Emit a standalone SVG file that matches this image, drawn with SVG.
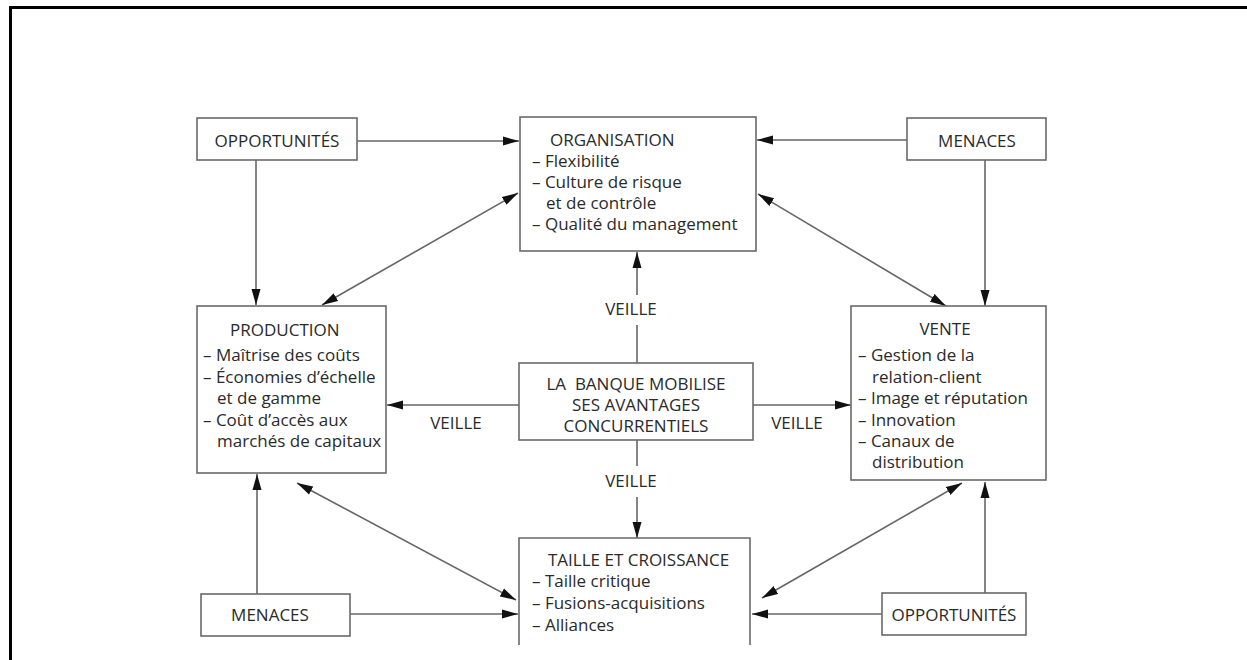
<svg xmlns="http://www.w3.org/2000/svg" width="1247" height="660" viewBox="0 0 1247 660">
  <style>
    .box { fill: #fff; stroke: #6a6a6a; stroke-width: 1.6; }
    .t { font-family: "Open Sans", "Liberation Sans", sans-serif; font-size: 17px; fill: #2a2a2a; white-space: pre; }
    .c { text-anchor: middle; }
    .ln { stroke: #666; stroke-width: 1.6; fill: none; }
    .a1 { marker-end: url(#ah); }
    .a2 { marker-start: url(#ahs); marker-end: url(#ah); }
  </style>
  <defs>
    <marker id="ah" viewBox="0 0 16 10" refX="16" refY="5" markerWidth="16" markerHeight="10" markerUnits="userSpaceOnUse" orient="auto">
      <path d="M0,0.5 L16,5 L0,9.5 Z" fill="#111"/>
    </marker>
    <marker id="ahs" viewBox="0 0 16 10" refX="0" refY="5" markerWidth="16" markerHeight="10" markerUnits="userSpaceOnUse" orient="auto">
      <path d="M16,0.5 L0,5 L16,9.5 Z" fill="#111"/>
    </marker>
  </defs>

  <rect width="1247" height="660" fill="#fff"/>
  <!-- page frame -->
  <path d="M10.5,660 V7.5 H1247" fill="none" stroke="#000" stroke-width="3"/>

  <g id="connectors">
    <line class="ln a1" x1="357" y1="141" x2="519" y2="141"/>
    <line class="ln a1" x1="256" y1="160" x2="256" y2="305"/>
    <line class="ln a2" x1="322" y1="305" x2="518" y2="193"/>
    <line class="ln a1" x1="907" y1="140" x2="757" y2="140"/>
    <line class="ln a1" x1="985" y1="160" x2="985" y2="306"/>
    <line class="ln a2" x1="758" y1="194" x2="946" y2="306"/>
    <line class="ln" x1="637" y1="363" x2="637" y2="325"/>
    <line class="ln a1" x1="637" y1="295" x2="637" y2="252"/>
    <line class="ln a1" x1="519" y1="405" x2="387" y2="405"/>
    <line class="ln a1" x1="753" y1="405" x2="851" y2="405"/>
    <line class="ln" x1="637" y1="440" x2="637" y2="466"/>
    <line class="ln a1" x1="637" y1="497" x2="637" y2="538"/>
    <line class="ln a1" x1="257" y1="594" x2="257" y2="474"/>
    <line class="ln a1" x1="350" y1="614" x2="518" y2="614"/>
    <line class="ln a2" x1="297" y1="483" x2="516" y2="600"/>
    <line class="ln a1" x1="985" y1="593" x2="985" y2="482"/>
    <line class="ln a1" x1="882" y1="614" x2="752" y2="614"/>
    <line class="ln a2" x1="962" y1="483" x2="762" y2="598"/>
  </g>

  <g id="veille-labels">
    <text class="t c" x="631" y="315">VEILLE</text>
    <text class="t c" x="456" y="429">VEILLE</text>
    <text class="t c" x="797" y="429">VEILLE</text>
    <text class="t c" x="631" y="487">VEILLE</text>
  </g>

  <g id="opportunites-haut">
    <rect class="box" x="197" y="118" width="160" height="42"/>
    <text class="t c" x="277" y="147">OPPORTUNITÉS</text>
  </g>

  <g id="organisation">
    <rect class="box" x="520" y="117" width="236" height="134"/>
    <text class="t" x="550" y="146">ORGANISATION</text>
    <text class="t" x="532" y="167">– Flexibilité</text>
    <text class="t" x="532" y="188">– Culture de risque</text>
    <text class="t" x="546" y="209">et de contrôle</text>
    <text class="t" x="532" y="230">– Qualité du management</text>
  </g>

  <g id="menaces-haut">
    <rect class="box" x="907" y="118" width="139" height="42"/>
    <text class="t c" x="977" y="147">MENACES</text>
  </g>

  <g id="production">
    <rect class="box" x="197" y="306" width="189" height="167"/>
    <text class="t" x="230" y="336">PRODUCTION</text>
    <text class="t" x="203" y="361">– Maîtrise des coûts</text>
    <text class="t" x="203" y="383">– Économies d’échelle</text>
    <text class="t" x="217" y="404">et de gamme</text>
    <text class="t" x="203" y="426">– Coût d’accès aux</text>
    <text class="t" x="217" y="447">marchés de capitaux</text>
  </g>

  <g id="banque">
    <rect class="box" x="519" y="363" width="234" height="77"/>
    <text class="t c" x="636" y="390">LA  BANQUE MOBILISE</text>
    <text class="t c" x="636" y="411">SES AVANTAGES</text>
    <text class="t c" x="636" y="432">CONCURRENTIELS</text>
  </g>

  <g id="vente">
    <rect class="box" x="851" y="306" width="195" height="174"/>
    <text class="t c" x="945" y="335">VENTE</text>
    <text class="t" x="858" y="361">– Gestion de la</text>
    <text class="t" x="872" y="383">relation-client</text>
    <text class="t" x="858" y="404">– Image et réputation</text>
    <text class="t" x="858" y="426">– Innovation</text>
    <text class="t" x="858" y="447">– Canaux de</text>
    <text class="t" x="872" y="468">distribution</text>
  </g>

  <g id="taille">
    <path class="box" d="M519,645 V538 H750 V645"/>
    <text class="t" x="548" y="566">TAILLE ET CROISSANCE</text>
    <text class="t" x="532" y="587">– Taille critique</text>
    <text class="t" x="532" y="609">– Fusions-acquisitions</text>
    <text class="t" x="532" y="631">– Alliances</text>
  </g>

  <g id="menaces-bas">
    <rect class="box" x="201" y="594" width="149" height="42"/>
    <text class="t c" x="270" y="621">MENACES</text>
  </g>

  <g id="opportunites-bas">
    <rect class="box" x="882" y="593" width="144" height="42"/>
    <text class="t c" x="954" y="621">OPPORTUNITÉS</text>
  </g>
</svg>
